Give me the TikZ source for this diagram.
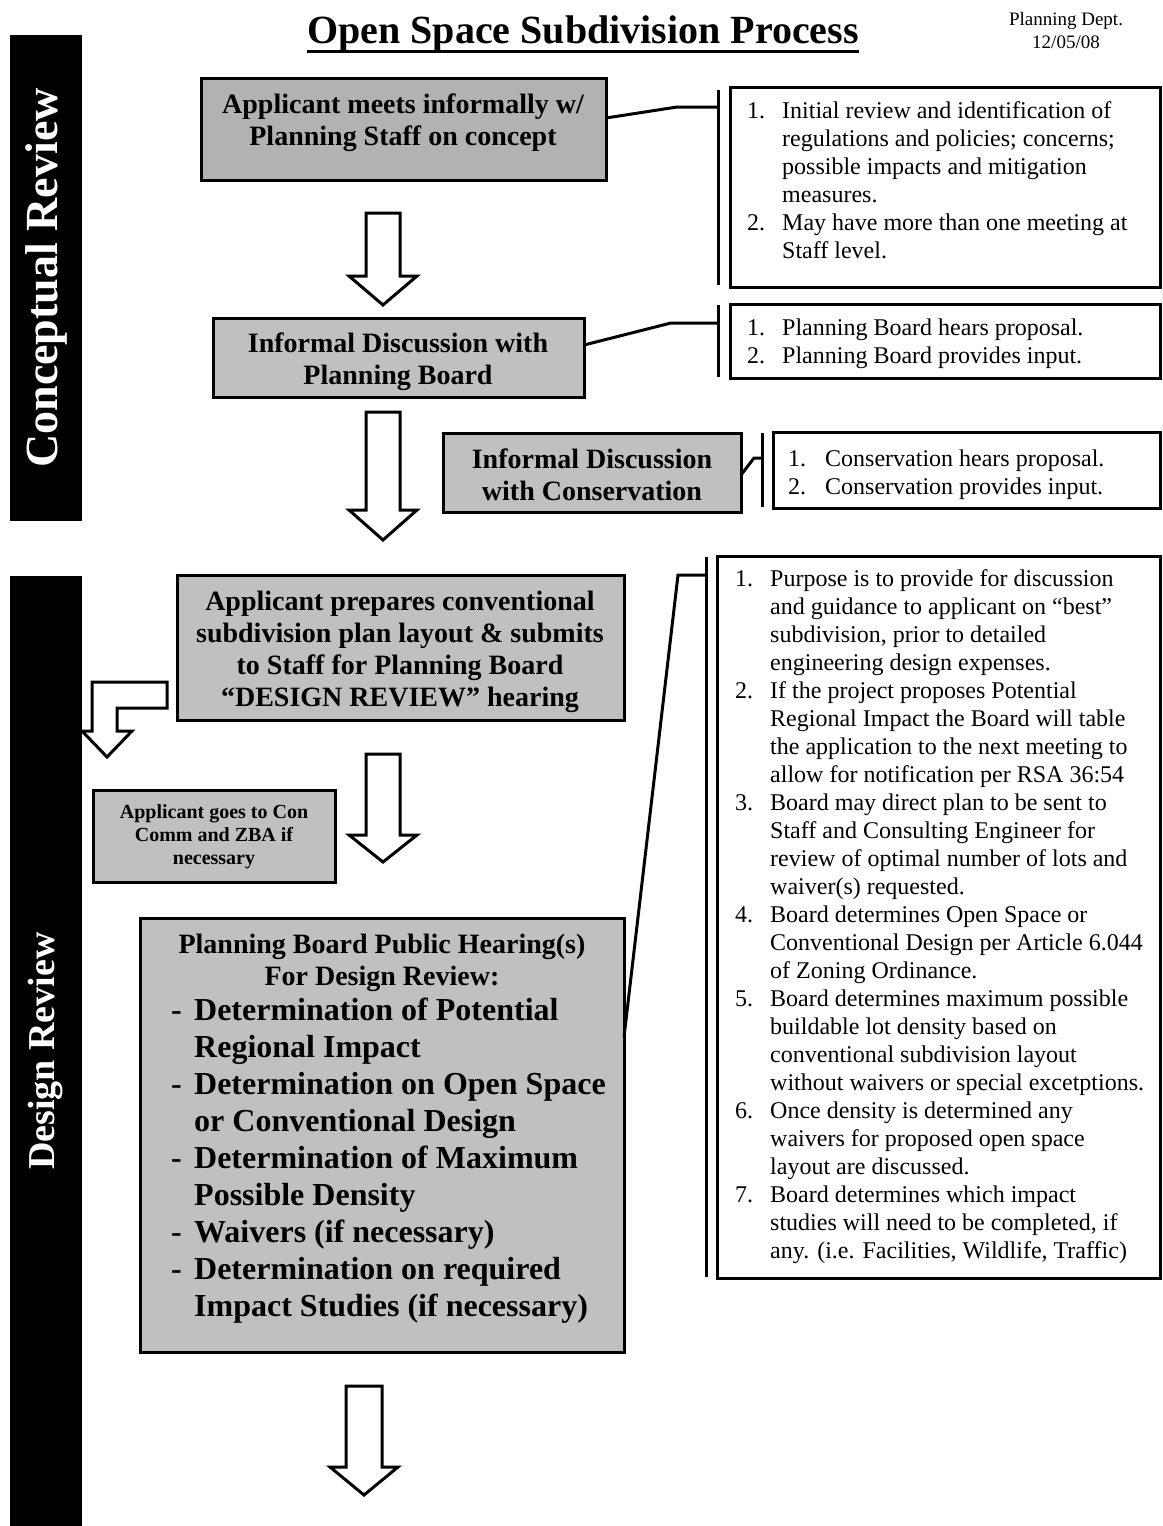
\documentclass[tikz,border=0pt]{standalone}
\usepackage{fontspec}
\setmainfont{Liberation Serif}
\definecolor{boxA}{RGB}{178,178,178}
\definecolor{boxB}{RGB}{192,192,192}
\newcommand{\fsz}[2]{\fontsize{#1}{#2}\selectfont}
\tikzset{
  shadebox/.style={draw, line width=3pt, fill=boxB, inner sep=0pt, outer sep=0pt, anchor=north west},
  notebox/.style={draw, line width=3pt, fill=white, inner sep=0pt, outer sep=0pt, anchor=north west},
  conn/.style={line width=3pt, line join=miter},
  blk/.style={draw, line width=3pt, fill=white, line join=miter, miter limit=10},
  btitle/.style={anchor=base, align=center, inner sep=0pt, font=\bfseries\fsz{28}{32}},
  ntext/.style={anchor=base west, inner sep=0pt, font=\fsz{24}{28}},
  sidebar/.style={fill=black, inner sep=0pt, outer sep=0pt, anchor=north west, minimum width=72pt},
}
\begin{document}
\begin{tikzpicture}[x=1pt,y=-1pt]
\useasboundingbox[fill=white] (0,0) rectangle (1162,1526);

% side bars
\node[sidebar, minimum height=486pt] (bar1) at (10,35) {};
\node[rotate=90, text=white, inner sep=0pt, font=\bfseries\fsz{46}{50}] (bar1t) at (bar1.center) {Conceptual Review};
\node[sidebar, minimum height=950pt] (bar2) at (10,576) {};
\node[rotate=90, text=white, inner sep=0pt, font=\bfseries\fsz{38}{44}] (bar2t) at (bar2.center) {Design Review};

% title (base anchor of a multi-line node = last line)
\node[anchor=base, inner sep=0pt, font=\bfseries\fsz{40}{48}] (title) at (583,43) {Open Space Subdivision Process};
\draw[line width=3pt] ([yshift=-8pt]title.base west) -- ([yshift=-8pt]title.base east);
\node[anchor=base, align=center, inner sep=0pt, font=\fsz{19}{23}] (dept) at (1066,48) {Planning Dept.\\12/05/08};

% process boxes
\node[shadebox, fill=boxA, minimum width=405pt, minimum height=102pt] (a) at (201,78) {};
\node[btitle] (at) at (403,145) {Applicant meets informally w/\\Planning Staff on concept};

\node[shadebox, minimum width=371pt, minimum height=79pt] (b) at (213,318) {};
\node[btitle] (bt) at (398,384) {Informal Discussion with\\Planning Board};

\node[shadebox, minimum width=298pt, minimum height=79pt] (c) at (443,433) {};
\node[btitle] (ct) at (592,500) {Informal Discussion\\with Conservation};

\node[shadebox, minimum width=447pt, minimum height=145pt] (d) at (177,575) {};
\node[btitle] (dt) at (400,706) {Applicant prepares conventional\\subdivision plan layout \& submits\\to Staff for Planning Board\\“DESIGN REVIEW” hearing};

\node[shadebox, minimum width=242pt, minimum height=92pt] (e) at (93,790) {};
\node[btitle, font=\bfseries\fsz{20}{23}] (et) at (214,864) {Applicant goes to Con\\Comm and ZBA if\\necessary};

\node[shadebox, minimum width=484pt, minimum height=434pt] (f) at (140,918) {};
\node[btitle] (ft) at (382,985) {Planning Board Public Hearing(s)\\For Design Review:};
\node[anchor=base west, inner sep=0pt, font=\bfseries\fsz{32}{37}] (fl) at (171,1020) {\begin{tabular}[t]{@{}p{23pt}@{}l@{}}-&Determination of Potential\\&Regional Impact\\-&Determination on Open Space\\&or Conventional Design\\-&Determination of Maximum\\&Possible Density\\-&Waivers (if necessary)\\-&Determination on required\\&Impact Studies (if necessary)\end{tabular}};

% note boxes
\node[notebox, minimum width=430pt, minimum height=200pt] (r1) at (730,87) {};
\node[ntext] (r1t) at (747,118) {\begin{tabular}[t]{@{}p{35pt}@{}l@{}}1.&Initial review and identification of\\&regulations and policies; concerns;\\&possible impacts and mitigation\\&measures.\\2.&May have more than one meeting at\\&Staff level.\end{tabular}};

\node[notebox, minimum width=430pt, minimum height=74pt] (r2) at (730,304) {};
\node[ntext] (r2t) at (747,335) {\begin{tabular}[t]{@{}p{35pt}@{}l@{}}1.&Planning Board hears proposal.\\2.&Planning Board provides input.\end{tabular}};

\node[notebox, minimum width=387pt, minimum height=76pt] (r3) at (773,432) {};
\node[ntext] (r3t) at (788,466) {\begin{tabular}[t]{@{}p{37pt}@{}l@{}}1.&Conservation hears proposal.\\2.&Conservation provides input.\end{tabular}};

\node[notebox, minimum width=443pt, minimum height=722pt] (r4) at (717,556) {};
\node[ntext] (r4t) at (735,586) {\begin{tabular}[t]{@{}p{35pt}@{}l@{}}1.&Purpose is to provide for discussion\\&and guidance to applicant on “best”\\&subdivision, prior to detailed\\&engineering design expenses.\\2.&If the project proposes Potential\\&Regional Impact the Board will table\\&the application to the next meeting to\\&allow for notification per RSA 36:54\\3.&Board may direct plan to be sent to\\&Staff and Consulting Engineer for\\&review of optimal number of lots and\\&waiver(s) requested.\\4.&Board determines Open Space or\\&Conventional Design per Article 6.044\\&of Zoning Ordinance.\\5.&Board determines maximum possible\\&buildable lot density based on\\&conventional subdivision layout\\&without waivers or special excetptions.\\6.&Once density is determined any\\&waivers for proposed open space\\&layout are discussed.\\7.&Board determines which impact\\&studies will need to be completed, if\\&any. (i.e. Facilities, Wildlife, Traffic)\end{tabular}};

% bracket bars
\coordinate (b1t) at (718,90);  \coordinate (b1b) at (718,285);
\coordinate (b2t) at (718,305); \coordinate (b2b) at (718,377);
\coordinate (b3t) at (762,433); \coordinate (b3b) at (762,507);
\coordinate (b4t) at (706,557); \coordinate (b4b) at (706,1277);
\draw[conn] (b1t) -- (b1b);
\draw[conn] (b2t) -- (b2b);
\draw[conn] (b3t) -- (b3b);
\draw[conn] (b4t) -- (b4b);

% connectors
\coordinate (k1) at (677,107);
\coordinate (k2) at (671,323);
\coordinate (k3) at (754,458);
\coordinate (k4) at (678,575);
\draw[conn] ([yshift=11pt]a.east) -- (k1) -- (k1 -| b1t);
\draw[conn] ([yshift=12.5pt]b.east) -- (k2) -- (k2 -| b2t);
\draw[conn] ([yshift=-2.5pt]c.east) -- (k3) -- (k3 -| b3t);
\draw[conn] ([yshift=98pt]f.east) -- (k4) -- (k4 -| b4t);

% block arrows
\draw[blk] (366,213) -- (400,213) -- (400,276) -- (417,276) -- (383,305) -- (349,276) -- (366,276) -- cycle;
\draw[blk] (366,412) -- (400,412) -- (400,510) -- (417,510) -- (383,540) -- (349,510) -- (366,510) -- cycle;
\draw[blk] (366,754) -- (400,754) -- (400,835) -- (417,835) -- (383,862) -- (349,835) -- (366,835) -- cycle;
\draw[blk] (346,1386) -- (382,1386) -- (382,1467) -- (398,1467) -- (364,1495) -- (330,1467) -- (346,1467) -- cycle;
\draw[blk] (92,682) -- (167,682) -- (167,708) -- (117,708) -- (117,731) -- (132,731) -- (107,757) -- (82,731) -- (92,731) -- cycle;
\end{tikzpicture}
\end{document}
